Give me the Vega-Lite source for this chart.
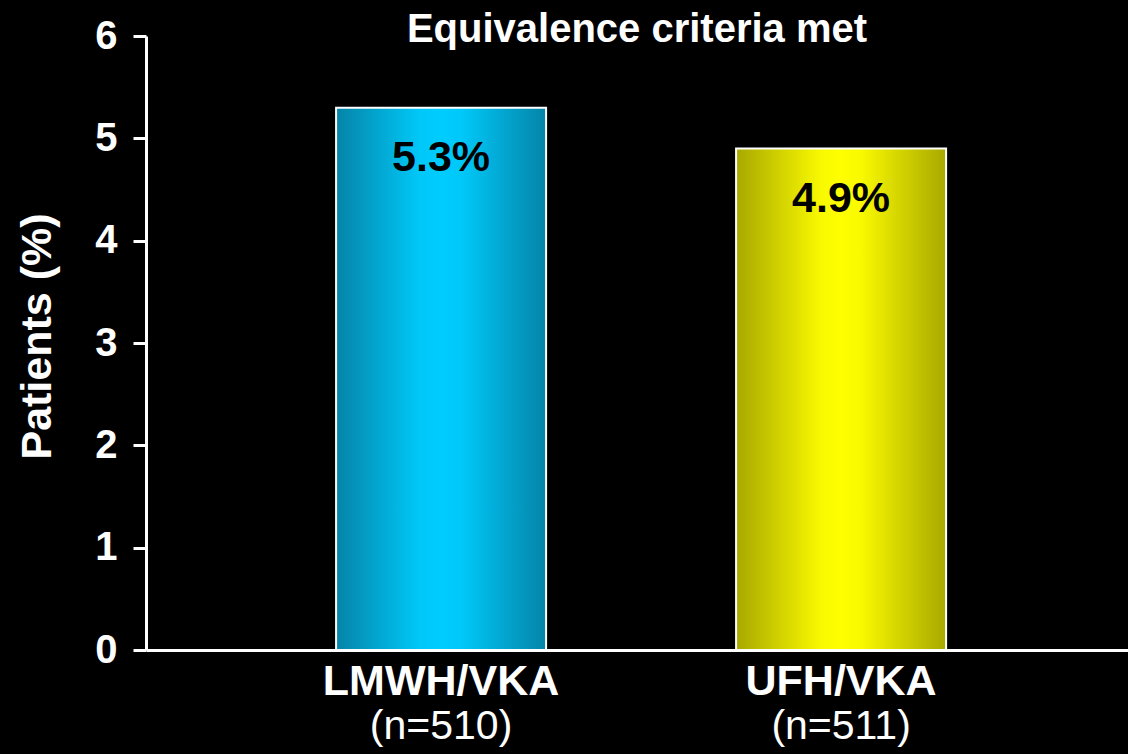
{
  "$schema": "https://vega.github.io/schema/vega-lite/v6.json",
  "autosize": "none",
  "padding": {"left": 146, "top": 36, "right": 0, "bottom": 104},
  "width": 982,
  "height": 614,
  "background": "#000000",
  "config": {
    "view": {"stroke": null},
    "font": "Liberation Sans"
  },
  "title": {
    "text": "Equivalence criteria met",
    "font": "Liberation Sans",
    "fontSize": 40,
    "fontWeight": "bold",
    "color": "#ffffff",
    "anchor": "middle",
    "offset": -34
  },
  "data": {
    "values": [
      {"group": "LMWH/VKA", "n": "(n=510)", "value": 5.3, "label": "5.3%"},
      {"group": "UFH/VKA", "n": "(n=511)", "value": 4.9, "label": "4.9%"}
    ]
  },
  "encoding": {
    "x": {
      "field": "group",
      "type": "nominal",
      "sort": null,
      "scale": {"paddingInner": 0.475, "paddingOuter": 0.465, "align": 0.511},
      "axis": {
        "title": null,
        "labelAngle": 0,
        "labelFont": "Liberation Sans",
        "labelFontSize": 43,
        "labelFontWeight": "bold",
        "labelColor": "#ffffff",
        "labelBaseline": "top",
        "labelPadding": 10,
        "labelLimit": 0,
        "ticks": false,
        "domainColor": "#ffffff",
        "domainWidth": 3
      }
    },
    "y": {
      "field": "value",
      "type": "quantitative",
      "scale": {"domain": [0, 6], "nice": false},
      "axis": {
        "values": [0, 1, 2, 3, 4, 5, 6],
        "grid": false,
        "labelFont": "Liberation Sans",
        "labelFontSize": 40,
        "labelFontWeight": "bold",
        "labelColor": "#ffffff",
        "labelPadding": 16,
        "tickColor": "#ffffff",
        "tickWidth": 3,
        "tickSize": 13,
        "domainColor": "#ffffff",
        "domainWidth": 3,
        "title": "Patients (%)",
        "titleFont": "Liberation Sans",
        "titleFontSize": 43,
        "titleFontWeight": "bold",
        "titleColor": "#ffffff",
        "titleAngle": -90,
        "titleAlign": "center",
        "titleBaseline": "middle",
        "titleX": -109,
        "titleY": 300
      }
    }
  },
  "layer": [
    {
      "transform": [{"filter": "datum.group === 'LMWH/VKA'"}],
      "mark": {
        "type": "bar",
        "stroke": "#ffffff",
        "strokeWidth": 2,
        "color": {
          "gradient": "linear",
          "x1": 0, "x2": 1, "y1": 0, "y2": 0,
          "stops": [
            {"offset": 0, "color": "#0584a8"},
            {"offset": 0.4, "color": "#00c8f8"},
            {"offset": 0.5, "color": "#00ccff"},
            {"offset": 0.6, "color": "#00c8f8"},
            {"offset": 1, "color": "#0584a8"}
          ]
        }
      }
    },
    {
      "transform": [{"filter": "datum.group === 'UFH/VKA'"}],
      "mark": {
        "type": "bar",
        "stroke": "#ffffff",
        "strokeWidth": 2,
        "color": {
          "gradient": "linear",
          "x1": 0, "x2": 1, "y1": 0, "y2": 0,
          "stops": [
            {"offset": 0, "color": "#a8a800"},
            {"offset": 0.4, "color": "#f8f800"},
            {"offset": 0.5, "color": "#ffff00"},
            {"offset": 0.6, "color": "#f8f800"},
            {"offset": 1, "color": "#a8a800"}
          ]
        }
      }
    },
    {
      "mark": {
        "type": "text",
        "font": "Liberation Sans",
        "fontSize": 43,
        "fontWeight": "bold",
        "color": "#000000",
        "baseline": "middle",
        "dy": 50
      },
      "encoding": {"text": {"field": "label"}}
    },
    {
      "mark": {
        "type": "text",
        "font": "Liberation Sans",
        "fontSize": 41,
        "fontWeight": "normal",
        "color": "#ffffff",
        "baseline": "top",
        "dy": 57
      },
      "encoding": {
        "y": {"datum": 0},
        "text": {"field": "n"}
      }
    }
  ]
}
